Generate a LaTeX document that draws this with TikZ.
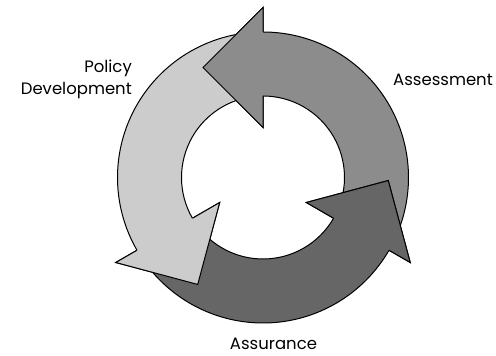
\documentclass[tikz,border=0pt]{standalone}
\usepackage{fontspec}
\setmainfont{Poppins}
\definecolor{assessgray}{HTML}{8C8C8C}
\definecolor{policygray}{HTML}{CCCCCC}
\definecolor{assuregray}{HTML}{666666}
\tikzset{
  arrowline/.style={draw=black, line width=1pt, line join=miter},
  cyclelabel/.style={font=\fontsize{16.5}{22}\selectfont, inner sep=0pt}
}
\begin{document}
\begin{tikzpicture}[x=1pt,y=1pt]
  \useasboundingbox (0,0) rectangle (496,356);
  \begin{scope}[shift={(263,178.5)}]
  % three arrows round the ring: tail angle / head angle / fill
  \foreach \a/\b/\col in {-25/90/assessgray, 95/210/policygray, 215/330/assuregray} {
    \filldraw[arrowline, fill=\col] (\a:145.5) arc[start angle=\a, end angle=\b, radius=145.5]
      -- (\b:170) -- ({\b+28.6}:125.3) -- (\b:50) -- (\b:81.5)
      arc[start angle=\b, end angle=\a, radius=81.5] -- cycle;
  }
  % heads again, so each lies over the tail it points at
  \foreach \b/\col in {90/assessgray, 210/policygray, 330/assuregray} {
    \fill[\col] (\b:170) -- ({\b+28.6}:125.3) -- (\b:50) -- cycle;
    \draw[arrowline] (\b:145.5) -- (\b:170) -- ({\b+28.6}:125.3) -- (\b:50) -- (\b:81.5);
  }
  \end{scope}
  \node[cyclelabel, anchor=east, align=right] (policy) at (132,277) {Policy\\Development};
  \node[cyclelabel, anchor=base west] (assess) at (393,270) {Assessment};
  \node[cyclelabel, anchor=base] (assure) at (273.5,6) {Assurance};
\end{tikzpicture}
\end{document}
